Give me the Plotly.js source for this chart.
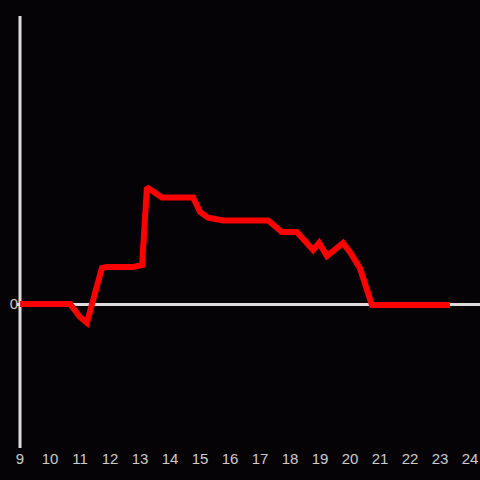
<!DOCTYPE html>
<html>
<head>
<meta charset="utf-8">
<script src="https://cdn.plot.ly/plotly-3.0.1.min.js"></script>
<style>html,body{margin:0;padding:0;background:#060307;}#chart{width:480px;height:480px;}</style>
</head>
<body>
<div id="chart"></div>
<script>
const xValues = [9.0, 10.67, 11.0, 11.23, 11.73, 11.9, 12.77, 13.07, 13.23, 13.73, 14.77, 15.0, 15.27, 15.77, 17.27, 17.73, 18.23, 18.77, 18.97, 19.23, 19.77, 20.0, 20.33, 20.73, 23.33];
const yValues = [0, 0, -0.9, -1.3, 2.5, 2.57, 2.57, 2.7, 8.1, 7.4, 7.4, 6.4, 6.0, 5.8, 5.8, 5.0, 5.0, 3.75, 4.24, 3.33, 4.24, 3.6, 2.5, -0.07, -0.07];
const xTicks = [9, 10, 11, 12, 13, 14, 15, 16, 17, 18, 19, 20, 21, 22, 23, 24];
const yTicks = [0];

Plotly.newPlot('chart', [{
  x: xValues,
  y: yValues,
  type: 'scatter',
  mode: 'lines',
  line: {color: '#ff0000', width: 6},
  hoverinfo: 'none'
}], {
  width: 480,
  height: 480,
  paper_bgcolor: '#060307',
  plot_bgcolor: '#060307',
  margin: {l: 17, r: 0, t: 16, b: 32},
  showlegend: false,
  shapes: [{
    type: 'line', layer: 'below',
    xref: 'x', yref: 'paper',
    x0: 9, x1: 9, y0: 0, y1: 1,
    line: {color: '#dddddd', width: 3}
  }],
  xaxis: {
    range: [8.9, 24.333],
    tickvals: xTicks,
    ticktext: xTicks.map(String),
    showgrid: false,
    zeroline: false,
    showline: false,
    ticks: '',
    tickfont: {family: 'Liberation Sans, Arial, sans-serif', size: 15, color: '#cccccc'},
    automargin: false
  },
  yaxis: {
    range: [-10, 20],
    tickvals: yTicks,
    ticktext: ['0'],
    showgrid: false,
    zeroline: true,
    zerolinecolor: '#dddddd',
    zerolinewidth: 3,
    showline: false,
    ticks: '',
    ticklabelstandoff: -2,
    tickfont: {family: 'Liberation Sans, Arial, sans-serif', size: 15, color: '#cccccc'},
    automargin: false
  }
}, {displayModeBar: false, staticPlot: true});
</script>
</body>
</html>
